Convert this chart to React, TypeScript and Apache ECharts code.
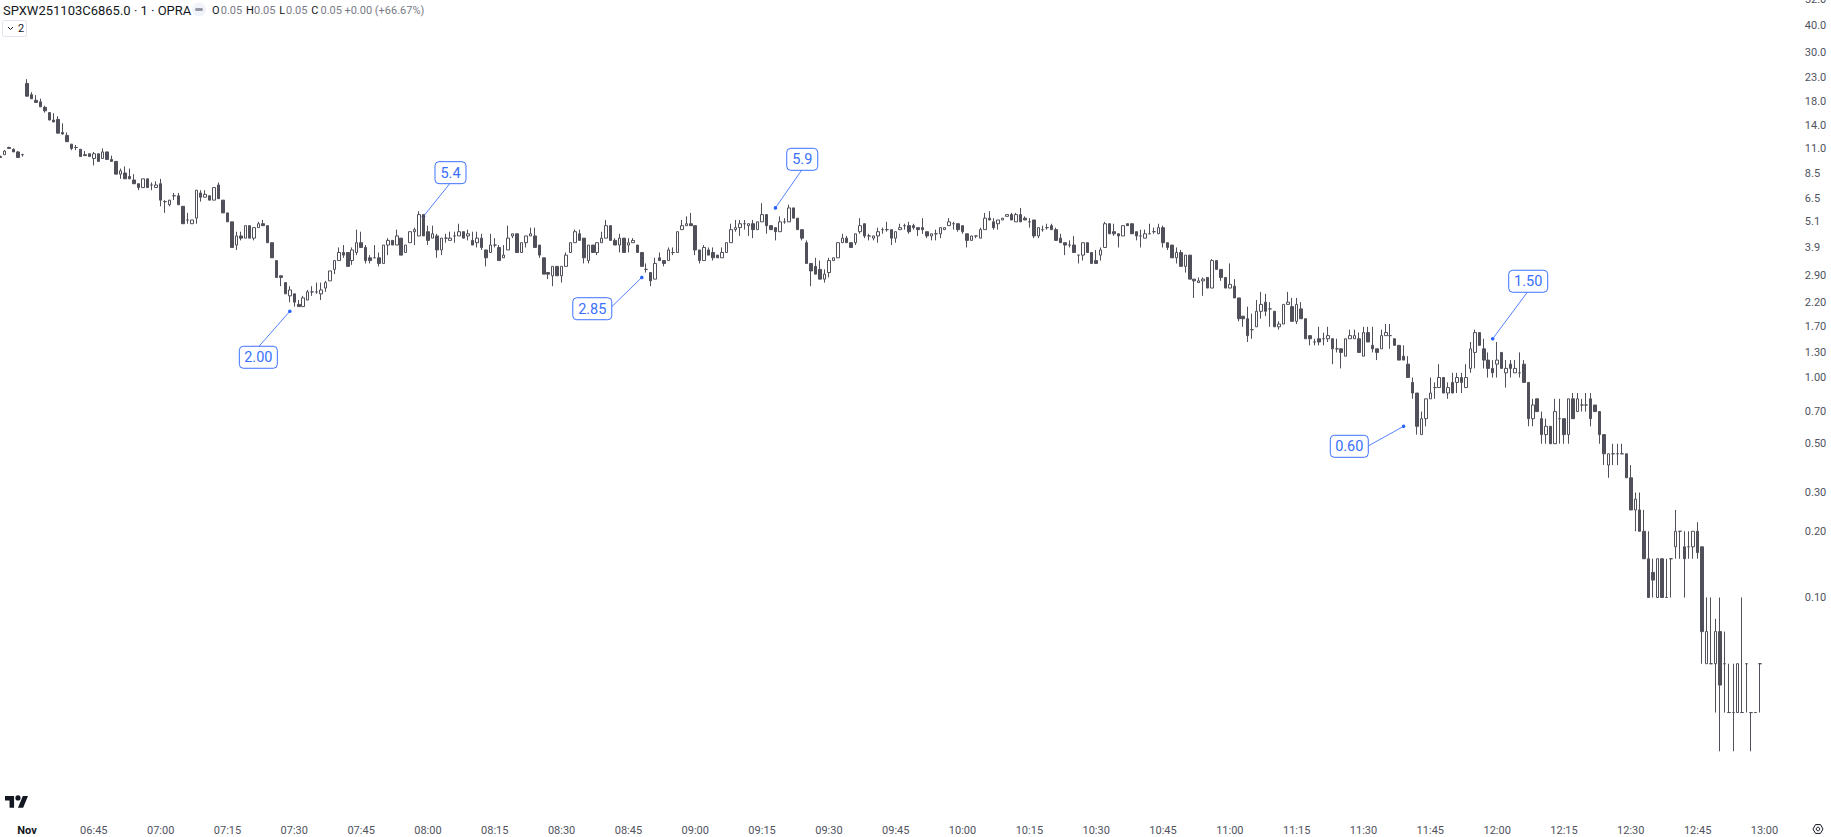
import React, { useEffect, useRef } from "react";
import * as echarts from "echarts";

// Each row is [open, high, low, close]
const barsPriorClose = [
  [10.1,10.2,10,10],[10.3,10.8,10.3,10.7],[11.1,11.2,11,11],[10.9,11,10.6,10.6],[10.6,10.7,10,10],[10.3,10.4,10.1,10.3],
];
const bars0630 = [
  [21.7,22.7,19,19],[19.3,19.8,18.5,18.5],[18.2,19.2,17.8,17.8],[17.9,18.5,17,17],[16.9,17.2,16,16.3],[16,16,14.8,14.8],[14.8,15.9,14.5,14.5],[14.9,15.4,12.9,12.9],[13,14.3,12.7,12.8],[12.6,13,11.8,11.8],
  [11.5,11.5,10.8,11],[11.1,11.4,10.8,11.1],[10.9,10.9,10.1,10.1],[10.3,10.7,10.2,10.2],[10.4,10.4,10.1,10.1],[9.9,10.6,9.2,10.4],[10.4,10.4,9.6,9.6],[9.9,11,9.9,10.6],[10.6,10.6,9.8,9.8],[9.8,10.2,9.6,9.6],
  [9.6,9.6,8.4,8.4],[8.4,8.9,8,8.7],[8.5,9.1,8,8],[8.2,8.9,8,8],[7.9,8.4,7.6,7.6],[7.6,7.6,7.1,7.3],[7.3,8,7.3,8],[8,8,7.3,7.3],[7.5,7.7,7.1,7.5],[7.3,7.8,7.3,7.5],
  [7.6,8,6,6.4],[6.3,6.4,5.6,6.3],[6.1,6.4,6,6.4],[6.7,6.9,6.4,6.7],[6.7,6.9,6.1,6.1],[6,6,5,5],[5.2,5.6,5,5.2],[5,5.2,5,5.2],[5.3,7.1,5,7.1],[6.9,7.1,6.3,6.6],
  [6.6,7.1,6.6,6.8],[6.7,6.7,6.4,6.4],[6.4,7.3,6.4,7.3],[7.5,7.7,6.5,6.5],[6.4,6.4,5.6,5.6],[5.6,5.6,5.1,5.1],[5.1,5.1,3.9,3.9],[4,4.6,3.8,4.4],[4.4,4.6,4.2,4.3],[4.3,4.9,4.3,4.9],
  [4.9,4.9,4.3,4.3],[4.3,4.8,4.2,4.8],[4.8,5.1,4.8,5],[5,5.2,4.9,4.9],[4.9,4.9,4.1,4.1],[4.1,4.1,3.5,3.5],[3.4,3.4,2.85,2.85],[2.9,2.9,2.6,2.85],[2.7,2.7,2.4,2.4],[2.35,2.6,2.2,2.5],
];
const bars0730 = [
  [2.4,2.4,2.1,2.2],[2.15,2.25,2.1,2.1],[2.1,2.35,2.1,2.3],[2.25,2.5,2.25,2.45],[2.45,2.6,2.35,2.45],[2.45,2.7,2.4,2.45],[2.4,2.7,2.25,2.5],[2.55,2.75,2.45,2.7],[2.75,3.05,2.75,3.05],[3.1,3.4,2.95,3.4],
  [3.4,3.9,3.4,3.7],[3.7,4,3.5,3.6],[3.7,3.7,3.2,3.2],[3.4,3.9,3.25,3.8],[3.7,4.7,3.6,4.1],[4.1,4.6,3.9,3.9],[3.9,4,3.3,3.4],[3.5,3.6,3.3,3.4],[3.5,4,3.5,3.5],[3.5,3.7,3.2,3.3],
  [3.3,4,3.3,4],[4,4.3,3.6,4.2],[4.2,4.2,4,4],[4,4.7,4,4.4],[4.3,4.3,3.6,3.6],[3.7,4,3.7,4],[4.1,4.6,4.1,4.6],[4.6,4.8,4,4.7],[4.4,5.7,4.4,5.5],[5.5,5.5,4.4,4.4],
  [4.6,4.9,4,4.2],[4.3,4.9,4.3,4.5],[4.4,4.5,3.5,3.8],[3.8,4.3,3.6,4.3],[4.3,4.5,4.1,4.3],[4.2,4.6,4.2,4.3],[4.4,4.6,4.1,4.4],[4.4,5,4.4,4.6],[4.6,4.6,4.3,4.3],[4.4,4.7,4.2,4.5],
  [4.2,4.6,4,4],[4.1,4.6,3.9,4.3],[4.3,4.5,3.8,3.9],[3.8,3.8,3.2,3.5],[3.7,4.5,3.7,4],[4,4.3,3.9,4],[3.9,4,3.4,3.4],[3.5,4,3.5,3.6],[3.8,4.9,3.8,4.3],[4.4,4.5,4.3,4.5],
  [4.5,4.5,3.7,3.7],[3.7,4.1,3.7,4.1],[4.1,4.4,3.9,4.4],[4.4,4.8,4.4,4.5],[4.4,4.8,3.9,3.9],[4,4,3.5,3.6],[3.5,3.5,2.95,2.95],[3,3,2.8,2.95],[2.9,3.2,2.6,3.2],[3.2,3.2,2.9,2.9],
];
const bars0830 = [
  [2.9,3.2,2.7,3.2],[3.2,3.7,3.2,3.6],[3.7,4.1,3.7,4.1],[4.1,4.7,4.1,4.6],[4.5,4.7,4.2,4.2],[4.3,4.3,3.3,3.5],[3.4,4,3.3,4],[4,4,3.7,3.7],[3.7,4.1,3.6,4.1],[4.1,4.6,4.1,4.3],
  [4.3,5.2,4.3,4.9],[4.9,4.9,4.2,4.2],[4.2,4.3,4,4],[4,4.5,3.7,4.3],[4.3,4.3,3.7,3.7],[4,4.3,3.7,4.1],[4.1,4.3,4.1,4.2],[4,4,3.7,3.7],[3.7,3.7,3.2,3.2],[3.1,3.3,3,3.1],
  [3,3,2.6,2.75],[2.8,3.5,2.8,3.3],[3.5,3.7,3.4,3.4],[3.4,3.4,3.2,3.3],[3.4,3.9,3.4,3.8],[3.7,3.9,3.6,3.7],[3.7,4.6,3.7,4.6],[4.7,5.2,4.7,4.9],[4.9,5.4,4.9,5],[5,5.6,4.9,4.9],
  [4.9,4.9,3.6,3.8],[3.8,3.8,3.3,3.4],[3.4,4,3.4,3.9],[3.8,3.9,3.6,3.6],[3.7,3.9,3.4,3.5],[3.6,3.6,3.5,3.5],[3.5,3.9,3.5,3.7],[3.7,4.1,3.7,4.1],[4.1,5,4.1,4.7],[4.7,5.2,4.6,4.8],
  [4.8,5.2,4.4,5],[5,5.2,4.7,5],[4.9,5,4.4,5],[5,5.2,4.3,4.7],[4.7,5.1,4.7,5.1],[5.1,6.2,5.1,5.5],[5.5,5.5,4.5,4.9],[4.9,4.9,4.7,4.7],[4.8,4.8,4.2,4.6],[4.6,5.4,4.6,5.1],
  [5.1,5.3,5,5.1],[5.1,6.1,5.1,5.9],[5.9,5.9,5.3,5.3],[5.3,5.3,4.7,4.7],[4.7,4.7,4.2,4.3],[4.1,4.2,3.3,3.3],[3.3,3.3,2.6,3.05],[3.2,3.5,2.95,2.95],[3.1,3.4,2.8,2.8],[2.8,3.1,2.7,2.95],
];
const bars0930 = [
  [3,3.5,2.85,3.4],[3.4,3.5,3.4,3.5],[3.5,4.1,3.5,4.1],[4.1,4.5,4.1,4.3],[4.3,4.4,4.1,4.1],[4.1,4.1,3.9,3.9],[4.1,4.5,4,4.5],[4.6,5.3,4.5,4.9],[5,5,4.3,4.4],[4.4,4.5,4.2,4.4],
  [4.3,4.4,4.2,4.4],[4.4,4.8,4.1,4.6],[4.7,4.8,4.5,4.7],[4.7,5.1,4.6,4.7],[4.7,4.7,4,4.3],[4.3,4.6,4.1,4.6],[4.7,5,4.7,4.8],[4.9,5,4.7,4.9],[4.9,5.1,4.5,4.6],[4.9,5,4.7,4.8],
  [4.8,4.8,4.4,4.7],[4.8,5.3,4.5,4.7],[4.6,4.6,4.3,4.4],[4.4,4.5,4.2,4.5],[4.5,4.7,4.2,4.5],[4.5,4.8,4.3,4.8],[4.7,4.8,4.7,4.8],[4.9,5.3,4.9,5.1],[5,5.1,4.7,5],[5,5,4.6,4.7],
  [4.9,4.9,4.5,4.6],[4.5,4.5,3.9,4.2],[4.2,4.4,4.2,4.4],[4.4,4.4,4.3,4.4],[4.3,4.8,4.3,4.7],[4.7,5.6,4.7,5.3],[5.3,5.7,5.2,5.2],[5.1,5.3,4.7,4.8],[5,5.2,4.7,5.2],[5.2,5.3,5.2,5.3],
  [5.4,5.5,5.4,5.5],[5.5,5.6,5.2,5.2],[5.1,5.6,5.1,5.5],[5.5,5.9,5.1,5.1],[5.3,5.4,5.2,5.2],[5.1,5.3,4.8,5.1],[5.2,5.2,4.3,4.4],[4.4,4.8,4.3,4.8],[4.7,4.9,4.6,4.7],[4.8,5,4.7,4.8],
  [4.9,5,4.7,4.7],[4.7,4.8,4.2,4.2],[4.3,4.5,4.1,4.1],[4.1,4.1,3.6,4],[4,4.2,3.9,4],[4,4.4,3.7,3.7],[3.6,3.6,3.3,3.6],[3.6,4.1,3.4,4.1],[4.1,4.1,3.7,3.7],[3.7,3.7,3.3,3.3],
];
const bars1030 = [
  [3.4,3.8,3.3,3.3],[3.6,3.9,3.4,3.8],[3.9,5.1,3.9,5],[5,5,4.5,4.5],[4.6,5,4.4,4.5],[4.5,4.5,3.9,4.4],[4.4,4.9,4.4,4.9],[5,5,4.9,4.9],[5,5,4.5,4.5],[4.6,4.6,4.2,4.4],
  [4.4,4.7,3.9,4.4],[4.3,4.7,4.3,4.5],[4.5,5,4.5,4.5],[4.6,4.8,4.5,4.6],[4.5,5,4.5,4.8],[4.8,4.9,3.9,4.1],[4.1,4.1,3.8,3.9],[4,4,3.5,3.5],[3.5,3.9,3.3,3.7],[3.7,3.8,3.2,3.2],
  [3.2,3.6,3,3.6],[3.6,3.6,2.8,2.8],[2.8,2.8,2.3,2.75],[2.7,2.85,2.7,2.75],[2.75,2.85,2.35,2.8],[2.85,2.85,2.55,2.55],[2.55,3.45,2.55,3.4],[3.4,3.4,3.1,3.1],[3.1,3.1,2.75,2.85],[2.85,2.85,2.55,2.55],
  [2.55,3.3,2.55,2.65],[2.6,2.8,2.3,2.3],[2.3,2.3,1.8,1.85],[1.9,1.9,1.7,1.85],[1.85,2.1,1.45,1.55],[1.65,1.95,1.5,1.65],[1.7,2.25,1.7,2],[2,2.45,1.85,2.15],[2.2,2.4,1.9,2],[2.05,2.2,1.7,2.05],
  [2,2,1.7,1.7],[1.7,1.8,1.65,1.75],[1.75,2.15,1.75,2.15],[2.15,2.45,2.15,2.2],[2.1,2.3,1.8,1.8],[1.8,2.3,1.75,2.15],[2.05,2.2,1.85,1.85],[1.85,1.85,1.5,1.5],[1.55,1.55,1.4,1.5],[1.45,1.5,1.4,1.45],
  [1.5,1.7,1.4,1.45],[1.5,1.6,1.4,1.5],[1.5,1.7,1.45,1.55],[1.5,1.5,1.15,1.35],[1.35,1.5,1.3,1.35],[1.35,1.35,1.1,1.3],[1.25,1.5,1.25,1.5],[1.5,1.65,1.5,1.55],[1.5,1.65,1.5,1.55],[1.5,1.6,1.3,1.3],
];
const bars1130 = [
  [1.25,1.7,1.25,1.6],[1.6,1.7,1.45,1.45],[1.4,1.7,1.3,1.35],[1.35,1.35,1.2,1.3],[1.35,1.65,1.35,1.55],[1.55,1.75,1.55,1.6],[1.55,1.75,1.35,1.55],[1.5,1.5,1.4,1.4],[1.4,1.4,1.2,1.2],[1.25,1.4,1.2,1.2],
  [1.15,1.25,1,1],[0.95,1,0.8,0.85],[0.85,0.85,0.55,0.6],[0.55,0.7,0.55,0.65],[0.65,0.8,0.6,0.8],[0.8,1,0.8,0.85],[0.9,0.95,0.8,0.9],[0.9,1.15,0.9,1],[1,1,0.85,0.85],[0.85,0.95,0.8,0.9],
  [0.95,1.05,0.85,0.85],[0.95,1.05,0.85,1],[1,1.05,0.85,0.95],[0.9,1.15,0.9,1],[1.1,1.45,1.05,1.35],[1.3,1.65,1.1,1.6],[1.6,1.6,1.4,1.4],[1.35,1.5,1.1,1.2],[1.2,1.3,1,1.1],[1.1,1.2,1,1.05],
  [1.15,1.45,1,1.2],[1.3,1.3,1.1,1.1],[1.05,1.2,0.9,1.1],[1.15,1.2,1,1.1],[1.05,1.2,1.05,1.1],[1.05,1.3,1,1.05],[1.15,1.2,0.95,0.95],[0.95,0.95,0.6,0.65],[0.65,0.8,0.6,0.75],[0.8,0.8,0.7,0.7],
  [0.65,0.7,0.5,0.55],[0.55,0.65,0.5,0.6],[0.6,0.6,0.5,0.5],[0.5,0.8,0.5,0.7],[0.65,0.8,0.5,0.65],[0.65,0.65,0.5,0.55],[0.55,0.8,0.5,0.8],[0.8,0.85,0.65,0.65],[0.7,0.85,0.7,0.8],[0.75,0.8,0.7,0.75],
  [0.75,0.85,0.7,0.75],[0.8,0.85,0.6,0.65],[0.75,0.75,0.7,0.7],[0.7,0.7,0.5,0.55],[0.55,0.55,0.4,0.45],[0.4,0.45,0.35,0.45],[0.45,0.5,0.4,0.45],[0.45,0.5,0.4,0.45],[0.45,0.5,0.45,0.45],[0.45,0.45,0.35,0.35],
];
const bars1230 = [
  [0.35,0.4,0.25,0.25],[0.25,0.3,0.2,0.28],[0.25,0.3,0.2,0.2],[0.2,0.25,0.15,0.15],[0.15,0.2,0.1,0.1],[0.13,0.15,0.1,0.12],[0.1,0.15,0.1,0.15],[0.15,0.15,0.1,0.1],[0.1,0.15,0.1,0.1],[0.15,0.15,0.1,0.15],
  [0.17,0.25,0.15,0.2],[0.2,0.2,0.15,0.2],[0.17,0.2,0.1,0.15],[0.17,0.2,0.15,0.17],[0.17,0.2,0.15,0.2],[0.2,0.22,0.15,0.16],[0.17,0.17,0.05,0.07],[0.05,0.1,0.05,0.07],[0.05,0.1,0.05,0.05],[0.05,0.08,0.03,0.07],
  [0.07,0.1,0.02,0.04],[0.05,0.07,0.03,0.05],[0.03,0.05,0.03,0.03],[0.03,0.05,0.02,0.03],[0.03,0.05,0.03,0.05],[0.03,0.1,0.03,0.03],[0.05,0.05,0.03,0.05],[0.03,0.03,0.02,0.03],[0.03,0.03,0.03,0.03],[0.05,0.05,0.03,0.05],
];

const priceTicks = [52, 40, 30, 23, 18, 14, 11, 8.5, 6.5, 5.1, 3.9, 2.9, 2.2, 1.7, 1.3, 1.0, 0.7, 0.5, 0.3, 0.2, 0.1];
const timeTicks = ["Nov","06:45","07:00","07:15","07:30","07:45","08:00","08:15","08:30","08:45","09:00","09:15","09:30","09:45","10:00","10:15","10:30","10:45","11:00","11:15","11:30","11:45","12:00","12:15","12:30","12:45","13:00"];

const calloutBars = [65, 95, 144, 174, 315, 335];
const calloutPrices = [2.0, 5.4, 2.85, 5.9, 0.6, 1.5];
const calloutLabels = ["2.00", "5.4", "2.85", "5.9", "0.60", "1.50"];
// Placement of each label box, relative to its anchor: left, top, width, tip x, tip y
const calloutBoxes = [
  [-50.5, 35, 38, -30.8, 35],
  [11.5, -54.7, 31, 26.5, -33],
  [-69, 20.3, 39, -30, 29.3],
  [11.3, -59.6, 31, 26.3, -37.9],
  [-73.3, 9, 38, -34.9, 19.4],
  [16, -68.5, 39, 34.6, -46.5],
];

const BLUE = "#2962ff";
const CANDLE = "#4f505a";
const TEXT = "#50535e";
const FONT = "Roboto, sans-serif";

const allBars = [...barsPriorClose, ...bars0630, ...bars0730, ...bars0830, ...bars0930, ...bars1030, ...bars1130, ...bars1230];

function clockLabel(i: number) {
  if (i === 6) return "Nov";
  const m = i < 6 ? 13 * 60 + 8 + i : 6 * 60 + 30 + (i - 6);
  return String(Math.floor(m / 60)).padStart(2, "0") + ":" + String(m % 60).padStart(2, "0");
}
const BAND = 4.455;
const SLOTS = 404;
const categories = Array.from({ length: SLOTS }, (_, i) => clockLabel(i));

echarts.graphic.registerShape(
  "tvlogo",
  echarts.graphic.extendPath("M14 22H7V11H0V4h14v18zM28 22h-8l7.5-18h8L28 22zM24 7a4 4 0 1 1-8 0 4 4 0 0 1 8 0z", {})
);

function ohlcText(x: number, key: string, x2: number, val: string) {
  return [
    { type: "text", x, y: 10, style: { text: key, fill: "#131722", font: `11px ${FONT}`, verticalAlign: "middle" } },
    { type: "text", x: x2, y: 10, style: { text: val, fill: "#787b86", font: `11px ${FONT}`, verticalAlign: "middle" } },
  ];
}

function renderCallout(params: any, api: any) {
  const i = params.dataIndex;
  const [ax, ay] = api.coord([api.value(0), api.value(1)]);
  const [l, t, w, tx, ty] = calloutBoxes[i];
  const h = 22;
  return {
    type: "group",
    children: [
      { type: "line", shape: { x1: ax, y1: ay, x2: ax + tx, y2: ay + ty }, style: { stroke: BLUE, lineWidth: 1, opacity: 0.8 } },
      { type: "circle", shape: { cx: ax, cy: ay, r: 1.8 }, style: { fill: BLUE } },
      { type: "rect", shape: { x: ax + l, y: ay + t, width: w, height: h, r: 4 }, style: { fill: "#fff", stroke: BLUE, lineWidth: 1, opacity: 0.9 } },
      { type: "text", x: ax + l + w / 2, y: ay + t + h / 2 + 0.5, style: { text: calloutLabels[i], fill: "#3a6ffb", font: `14.5px ${FONT}`, align: "center", verticalAlign: "middle" } },
    ],
  };
}

export default function App() {
  const ref = useRef<HTMLDivElement>(null);
  useEffect(() => {
    if (!ref.current) return;
    const chart = echarts.init(ref.current, undefined, { renderer: "svg" });
    chart.setOption({
      animation: false,
      backgroundColor: "#ffffff",
      grid: { left: -1.96, top: -1, width: SLOTS * BAND, height: 813, outerBoundsMode: "none" },
      xAxis: {
        type: "category",
        data: categories,
        axisLine: { show: false },
        axisTick: { show: false },
        splitLine: { show: false },
        axisLabel: {
          interval: (_: number, v: string) => timeTicks.includes(v),
          color: TEXT,
          fontFamily: FONT,
          fontSize: 11,
          margin: 13,
          hideOverlap: false,
          formatter: (v: string) => (v === "Nov" ? "{b|Nov}" : v),
          rich: { b: { fontWeight: 700, color: "#131722", fontFamily: FONT, fontSize: 11 } },
        },
      },
      yAxis: {
        type: "log",
        logBase: 10,
        position: "right",
        min: Math.pow(10, -434.5 / 220),
        max: Math.pow(10, 378.5 / 220),
        axisLine: { show: false },
        axisTick: { show: false },
        splitLine: { show: false },
        axisLabel: {
          customValues: priceTicks,
          color: TEXT,
          fontFamily: FONT,
          fontSize: 11,
          margin: 7,
          padding: [2, 0, 0, 0],
          formatter: (v: number) => (v >= 3 ? v.toFixed(1) : v.toFixed(2)),
        },
      },
      series: [
        {
          type: "custom",
          z: 1,
          clip: false,
          renderItem: renderCallout,
          encode: { x: 0, y: 1 },
          data: calloutBars.map((b, i) => [b, calloutPrices[i]]),
        },
        {
          type: "candlestick",
          z: 2,
          barWidth: 3,
          itemStyle: {
            color: "#ffffff",
            color0: CANDLE,
            borderColor: CANDLE,
            borderColor0: CANDLE,
            borderColorDoji: CANDLE,
            borderWidth: 1,
          },
          data: allBars.map(([o, h, l, c]) => [o, c, l, h]),
        },
      ],
      graphic: [
        { type: "text", x: 3, y: 10, style: { text: "SPXW251103C6865.0 · 1 · OPRA", fill: "#131722", font: `13px ${FONT}`, verticalAlign: "middle" } },
        { type: "circle", shape: { cx: 199, cy: 9.5, r: 7 }, style: { fill: "#f0f3fa" } },
        { type: "rect", shape: { x: 195, y: 8, width: 8, height: 3, r: 1.5 }, style: { fill: "#9598a1" } },
        ...ohlcText(212, "O", 220.7, "0.05"),
        ...ohlcText(246, "H", 254, "0.05"),
        ...ohlcText(279.3, "L", 286, "0.05"),
        ...ohlcText(311.3, "C", 320.5, "0.05"),
        { type: "text", x: 344.4, y: 10, style: { text: "+0.00 (+66.67%)", fill: "#787b86", font: `11px ${FONT}`, verticalAlign: "middle" } },
        { type: "rect", shape: { x: 2.5, y: 20.5, width: 24, height: 16, r: 2 }, style: { fill: "#fff", stroke: "#e0e3eb", lineWidth: 1 } },
        { type: "polyline", shape: { points: [[8, 27], [10.5, 29.5], [13, 27]] }, style: { fill: "none", stroke: "#131722", lineWidth: 1 } },
        { type: "text", x: 18, y: 28, style: { text: "2", fill: "#131722", font: `11px ${FONT}`, verticalAlign: "middle" } },
        { type: "tvlogo", x: 5, y: 793.4, scaleX: 0.648, scaleY: 0.648, style: { fill: "#131722" } },
        { type: "polygon", shape: { points: [[1813, 829], [1815.5, 824.6], [1820.5, 824.6], [1823, 829], [1820.5, 833.4], [1815.5, 833.4]] }, style: { fill: "none", stroke: "#131722", lineWidth: 1 } },
        { type: "circle", shape: { cx: 1818, cy: 829, r: 1.8 }, style: { fill: "none", stroke: "#131722", lineWidth: 1 } },
      ],
    });
    return () => chart.dispose();
  }, []);
  return <div ref={ref} style={{ position: "absolute", left: 0, top: 0, width: 1831, height: 837 }} />;
}
